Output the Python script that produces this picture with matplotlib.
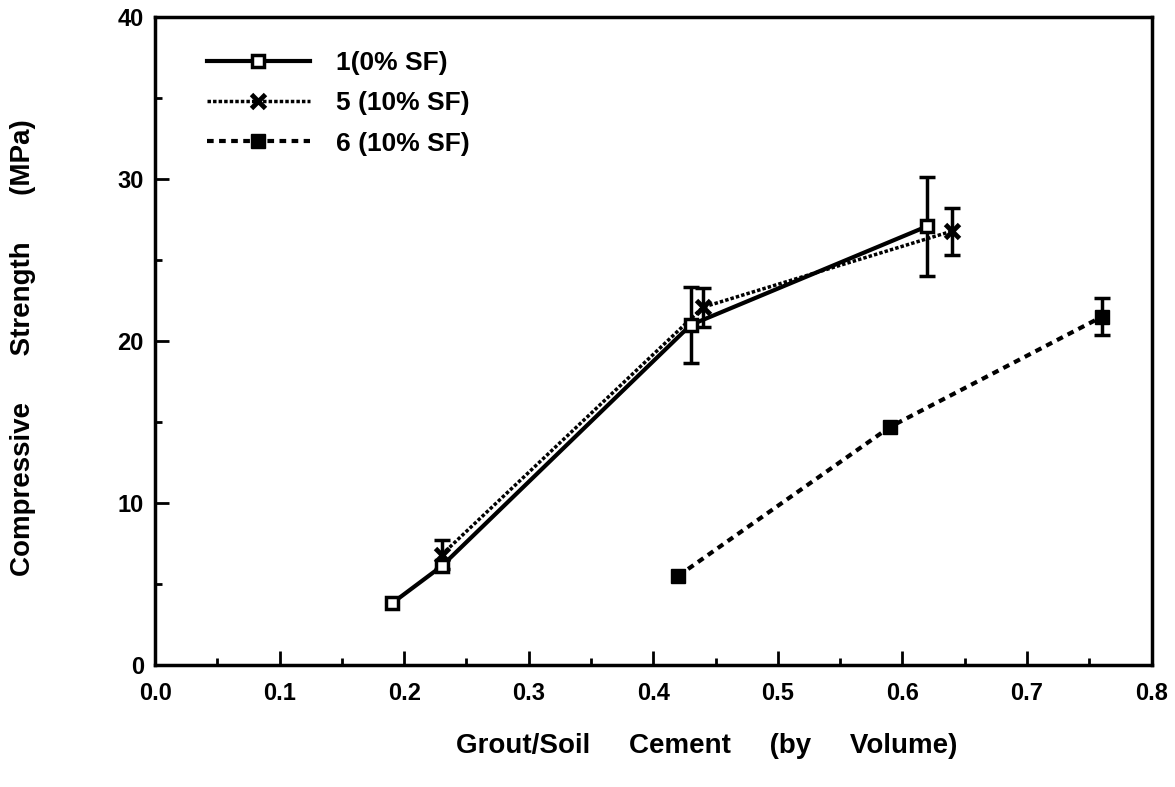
import matplotlib
matplotlib.use("Agg")
import matplotlib.pyplot as plt
from matplotlib.ticker import MultipleLocator
import numpy as np

plt.rcParams['font.family'] = ['Liberation Sans', 'DejaVu Sans']
plt.rcParams['font.weight'] = 'bold'

# grout/soil ratio vs. compressive strength, three mixes
x_mix1 = [0.19, 0.23, 0.43, 0.62]
y_mix1 = [3.8, 6.1, 21.0, 27.1]
err_mix1 = [0.0, 0.0, 2.35, 3.05]

x_mix5 = [0.23, 0.44, 0.64]
y_mix5 = [6.8, 22.1, 26.8]
err_mix5 = [0.9, 1.2, 1.45]

x_mix6 = [0.42, 0.59, 0.76]
y_mix6 = [5.5, 14.7, 21.5]
err_mix6 = [0.0, 0.0, 1.15]

labels = ["1(0% SF)", "5 (10% SF)", "6 (10% SF)"]

fig = plt.figure(figsize=(11.75, 7.87), dpi=100)
ax = fig.add_axes([0.132, 0.155, 0.848, 0.823])

def draw_bars(xs, ys, errs):
    xs = np.array(xs); ys = np.array(ys); errs = np.array(errs)
    m = errs > 0
    ax.errorbar(xs[m], ys[m], yerr=errs[m], fmt='none', ecolor='black',
                elinewidth=2.5, capsize=6, capthick=2.5, zorder=2)

draw_bars(x_mix1, y_mix1, err_mix1)
draw_bars(x_mix5, y_mix5, err_mix5)
draw_bars(x_mix6, y_mix6, err_mix6)

ax.plot(x_mix1, y_mix1, color='black', lw=3, linestyle='-', marker='s',
        markersize=9, markerfacecolor='white', markeredgewidth=2.5,
        label=labels[0], zorder=4)
ax.plot(x_mix5, y_mix5, color='black', lw=2.5, linestyle=(0, (1, 0.6)),
        marker='x', markersize=10, markeredgewidth=3.5,
        label=labels[1], zorder=3)
ax.plot(x_mix6, y_mix6, color='black', lw=3, linestyle=(0, (1.6, 1.3)),
        marker='s', markersize=10, markerfacecolor='black',
        label=labels[2], zorder=3)

ax.set_xlim(0, 0.8)
ax.set_ylim(0, 40)
ax.xaxis.set_minor_locator(MultipleLocator(0.05))
ax.yaxis.set_major_locator(MultipleLocator(10))
ax.yaxis.set_minor_locator(MultipleLocator(5))
ax.set_xticks(np.arange(0, 0.81, 0.1))
ax.set_xticklabels([f"{v:.1f}" for v in np.arange(0, 0.81, 0.1)])
ax.tick_params(which='both', direction='in', top=False, right=False,
               labelsize=17, width=2)
ax.tick_params(which='major', length=10)
ax.tick_params(axis='x', which='major', pad=12)
ax.tick_params(axis='y', which='major', pad=8)
ax.tick_params(which='minor', length=5)
for sp in ax.spines.values():
    sp.set_linewidth(2.5)

ax.set_xlabel("Grout/Soil     Cement     (by     Volume)", fontsize=20,
              fontweight='bold')
ax.xaxis.set_label_coords(0.554, -0.105)
ax.set_ylabel("Compressive      Strength      (MPa)", fontsize=20,
              fontweight='bold')
ax.yaxis.set_label_coords(-0.12, 0.49)

leg = ax.legend(loc='upper left', bbox_to_anchor=(0.028, 0.985), frameon=False,
                fontsize=19, handlelength=3.9, handletextpad=1.0,
                labelspacing=0.62)

fig.savefig("out.png", dpi=100)
